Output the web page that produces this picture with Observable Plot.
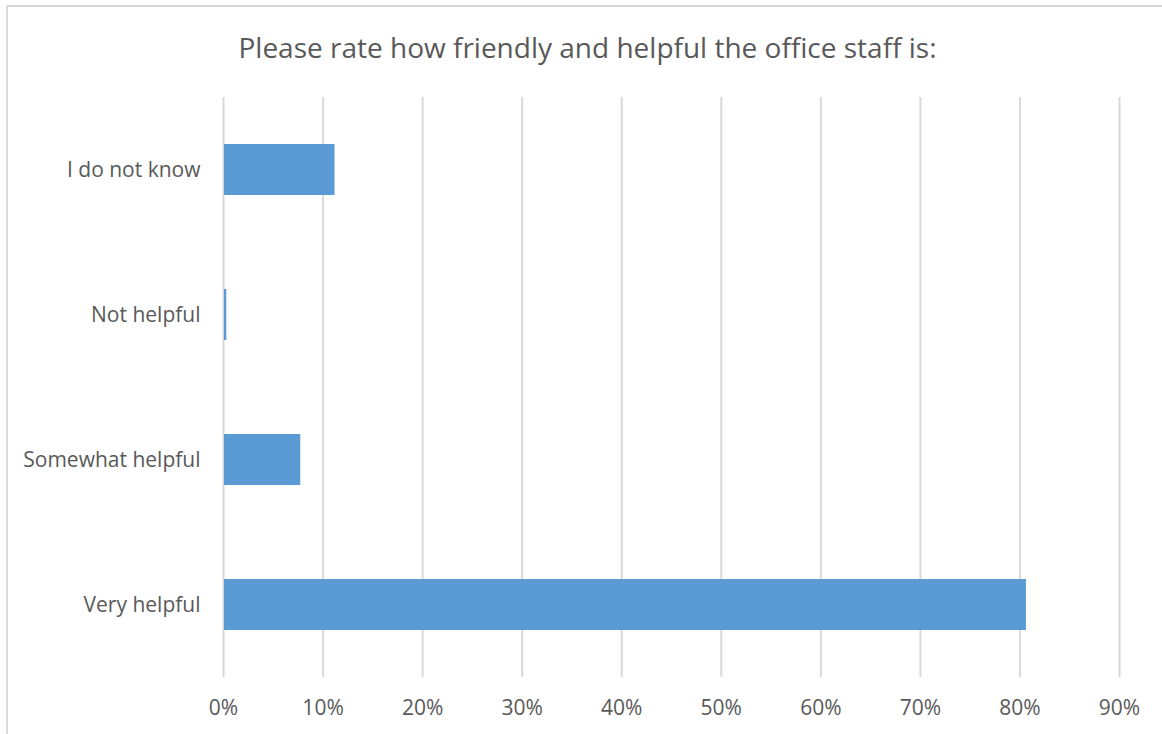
<!DOCTYPE html>
<html>
<head>
<meta charset="utf-8">
<script src="https://cdn.jsdelivr.net/npm/d3@7"></script>
<script src="https://cdn.jsdelivr.net/npm/@observablehq/plot@0.6"></script>
<style>
  html, body { margin: 0; padding: 0; background: #fff; overflow: hidden; }
  body { width: 1162px; height: 734px; position: relative; font-family: "Open Sans", sans-serif; }
  #frame { position: absolute; left: 6px; top: 5px; width: 1200px; height: 800px;
           border-top: 2px solid #d9d9d9; border-left: 2px solid #d9d9d9; box-sizing: border-box; }
  #title { position: absolute; left: 0; width: 1175px; top: 27px; text-align: center;
           font-size: 28px; color: #595959; line-height: 40px; }
  #chart { position: absolute; left: 0; top: 90px; }
</style>
</head>
<body>
<div id="frame"></div>
<div id="title">Please rate how friendly and helpful the office staff is:</div>
<div id="chart"></div>
<script>
const categories = ["I do not know", "Not helpful", "Somewhat helpful", "Very helpful"];
const shares = [0.112, 0.0033, 0.0776, 0.8065];
const xTicks = [0, 0.1, 0.2, 0.3, 0.4, 0.5, 0.6, 0.7, 0.8, 0.9];

const data = categories.map((c, i) => ({category: c, value: shares[i]}));
const fmt = d => Math.round(d * 100) + "%";

const chart = Plot.plot({
  width: 1162,
  height: 644,
  marginTop: 7,
  marginBottom: 57,
  marginLeft: 223,
  marginRight: 43,
  style: {fontFamily: "'Open Sans', sans-serif", fontSize: "21px", color: "#595959", background: "transparent"},
  x: {domain: [0, 0.9], ticks: xTicks, tickFormat: fmt, label: null},
  y: {domain: categories, paddingInner: 0.65, paddingOuter: 0.325, label: null},
  marks: [
    Plot.gridX(xTicks, {stroke: "#d9d9d9", strokeOpacity: 1, strokeWidth: 2}),
    Plot.barX(data, {x: "value", y: "category", fill: "#5b9bd5", insetLeft: 1}),
    Plot.axisX(xTicks, {tickSize: 0, tickPadding: 23, tickFormat: fmt, fill: "#595959", fontSize: 21, label: null}),
    Plot.axisY({tickSize: 0, tickPadding: 23, fill: "#595959", fontSize: 21, label: null})
  ]
});
document.getElementById("chart").appendChild(chart);
</script>
</body>
</html>
